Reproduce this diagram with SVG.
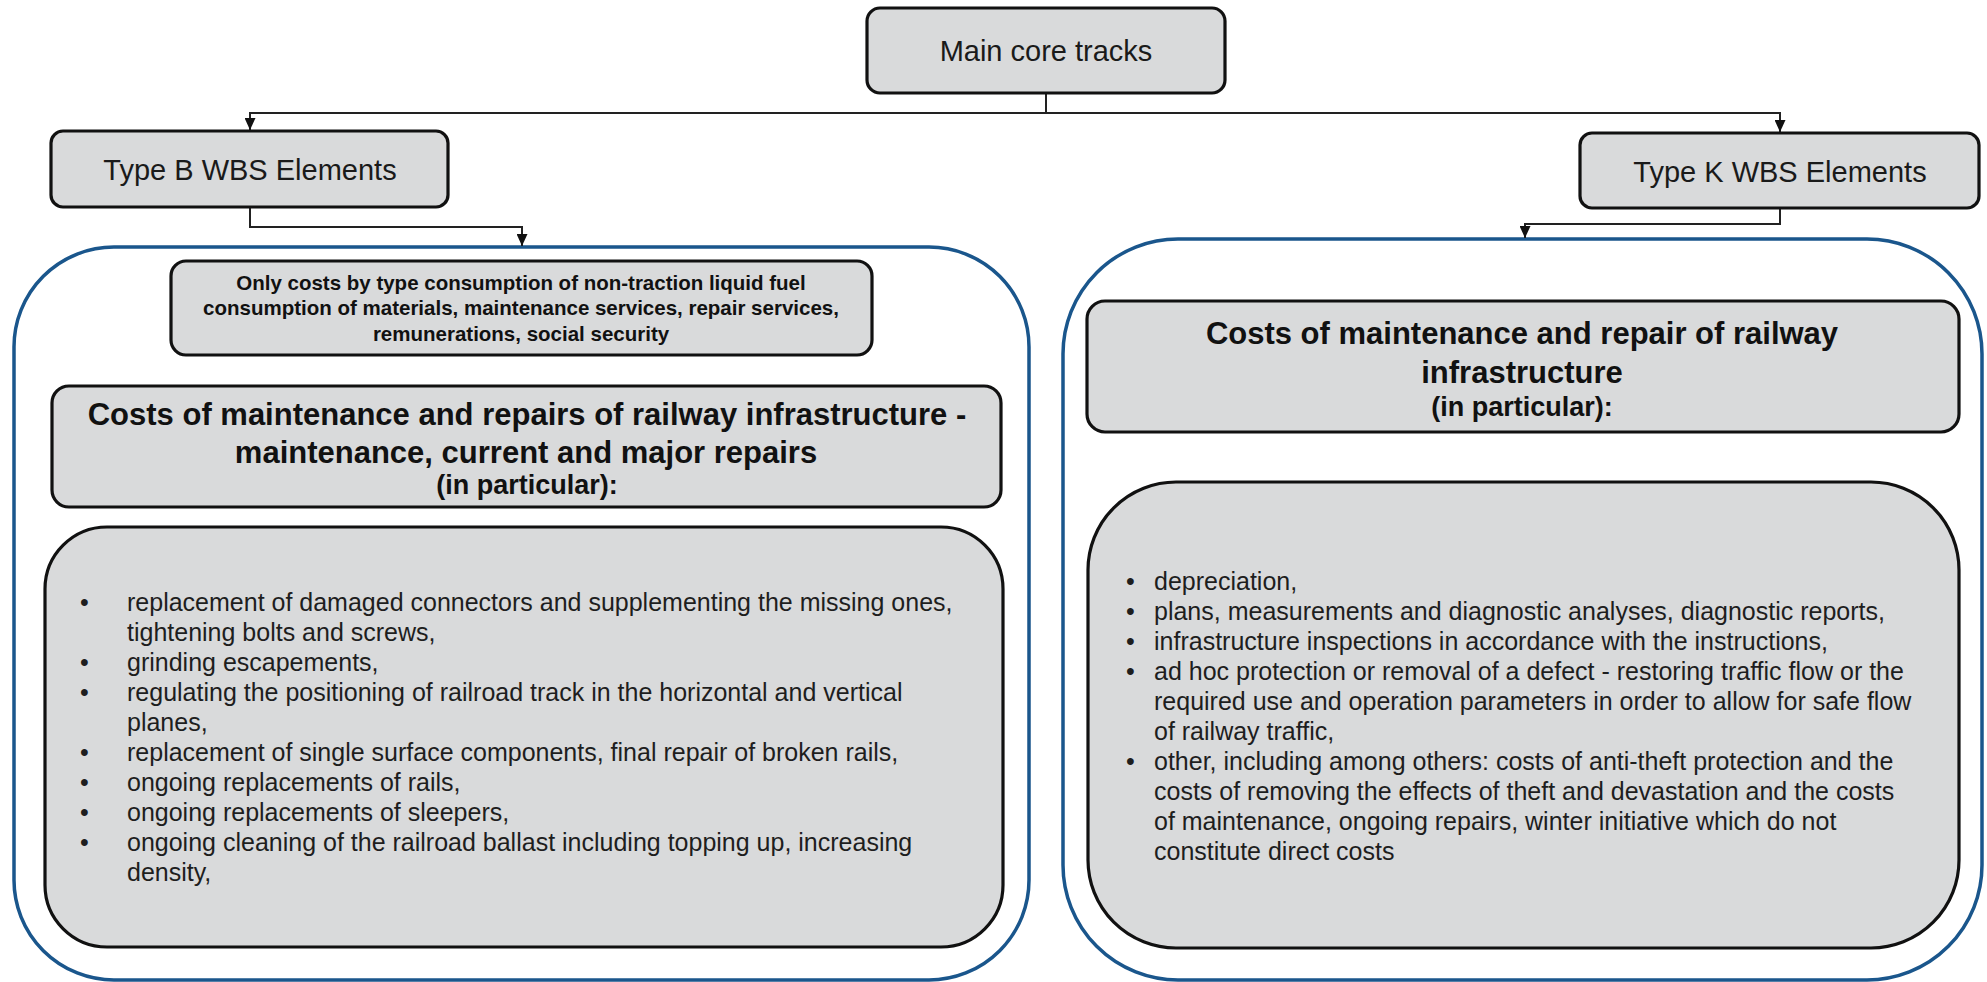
<svg xmlns="http://www.w3.org/2000/svg" width="1987" height="982" viewBox="0 0 1987 982">
<style>
.box{fill:#d9dadb;stroke:#111;stroke-width:3.2}
.cont{fill:none;stroke:#1a568c;stroke-width:3.5}
.lbl{font-family:"Liberation Sans",Arial,sans-serif;font-size:29px;fill:#1a1a1a;text-anchor:middle}
.hd{font-family:"Liberation Sans",Arial,sans-serif;font-size:31px;font-weight:bold;fill:#111;text-anchor:middle}
.sub{font-family:"Liberation Sans",Arial,sans-serif;font-size:27px;font-weight:bold;fill:#111;text-anchor:middle}
.sm{font-family:"Liberation Sans",Arial,sans-serif;font-size:20.5px;font-weight:bold;fill:#111;text-anchor:middle}
.bl{font-family:"Liberation Sans",Arial,sans-serif;font-size:25px;fill:#1e1e1e}
.conn{fill:none;stroke:#222;stroke-width:2}
</style>
<defs>
<marker id="arr" markerUnits="userSpaceOnUse" markerWidth="12" markerHeight="11" refX="12" refY="5.5" orient="auto">
<path d="M0,0 L12,5.5 L0,11 z" fill="#111"/>
</marker>
</defs>

<g id="container-B"><rect class="cont" x="14" y="247" width="1015" height="733" rx="100" ry="100"/></g>
<g id="container-K"><rect class="cont" x="1063" y="239" width="919" height="741" rx="115" ry="115"/></g>

<g id="connectors">
<path class="conn" d="M1046,94 V113 H250 V130" marker-end="url(#arr)"/>
<path class="conn" d="M1046,113 H1780 V132" marker-end="url(#arr)"/>
<path class="conn" d="M250,207 V227 H522 V246" marker-end="url(#arr)"/>
<path class="conn" d="M1780,208 V224 H1525 V238" marker-end="url(#arr)"/>
</g>

<g id="main">
<rect class="box" x="867" y="8" width="358" height="85" rx="13"/>
<text class="lbl" x="1046" y="61">Main core tracks</text>
</g>

<g id="typeB">
<rect class="box" x="51" y="131" width="397" height="76" rx="12"/>
<text class="lbl" x="250" y="180">Type B WBS Elements</text>
</g>

<g id="typeK">
<rect class="box" x="1580" y="133" width="399" height="75" rx="12"/>
<text class="lbl" x="1780" y="182">Type K WBS Elements</text>
</g>

<g id="only-costs">
<rect class="box" x="171" y="261" width="701" height="94" rx="15"/>
<text class="sm" x="521" y="290">Only costs by type consumption of non-traction liquid  fuel</text>
<text class="sm" x="521" y="315">consumption of materials, maintenance services, repair services,</text>
<text class="sm" x="521" y="341">remunerations, social security</text>
</g>

<g id="header-B">
<rect class="box" x="52" y="386" width="949" height="121" rx="17"/>
<text class="hd" x="527" y="425">Costs of maintenance and repairs of railway infrastructure -</text>
<text class="hd" x="526" y="463">maintenance, current and major repairs</text>
<text class="sub" x="527" y="494">(in particular):</text>
</g>

<g id="header-K">
<rect class="box" x="1087" y="301" width="872" height="131" rx="18"/>
<text class="hd" x="1522" y="344">Costs of maintenance and repair of railway</text>
<text class="hd" x="1522" y="383">infrastructure</text>
<text class="sub" x="1522" y="416">(in particular):</text>
</g>

<g id="list-B">
<rect class="box" x="45" y="527" width="958" height="420" rx="62"/>
<text class="bl" x="80" y="611">•</text>
<text class="bl" x="127" y="611">replacement of damaged connectors and supplementing the missing ones,</text>
<text class="bl" x="127" y="641">tightening bolts and screws,</text>
<text class="bl" x="80" y="671">•</text>
<text class="bl" x="127" y="671">grinding escapements,</text>
<text class="bl" x="80" y="701">•</text>
<text class="bl" x="127" y="701">regulating the positioning of railroad track in the horizontal and vertical</text>
<text class="bl" x="127" y="731">planes,</text>
<text class="bl" x="80" y="761">•</text>
<text class="bl" x="127" y="761">replacement of single surface components, final repair of broken rails,</text>
<text class="bl" x="80" y="791">•</text>
<text class="bl" x="127" y="791">ongoing replacements of rails,</text>
<text class="bl" x="80" y="821">•</text>
<text class="bl" x="127" y="821">ongoing replacements of sleepers,</text>
<text class="bl" x="80" y="851">•</text>
<text class="bl" x="127" y="851">ongoing cleaning of the railroad ballast including topping up, increasing</text>
<text class="bl" x="127" y="881">density,</text>
</g>

<g id="list-K">
<rect class="box" x="1088" y="482" width="871" height="466" rx="88"/>
<text class="bl" x="1126" y="590">•</text>
<text class="bl" x="1154" y="590">depreciation,</text>
<text class="bl" x="1126" y="620">•</text>
<text class="bl" x="1154" y="620">plans, measurements and diagnostic analyses, diagnostic reports,</text>
<text class="bl" x="1126" y="650">•</text>
<text class="bl" x="1154" y="650">infrastructure inspections in accordance with the instructions,</text>
<text class="bl" x="1126" y="680">•</text>
<text class="bl" x="1154" y="680">ad hoc protection or removal of a defect - restoring traffic flow or the</text>
<text class="bl" x="1154" y="710">required use and operation parameters in order to allow for safe flow</text>
<text class="bl" x="1154" y="740">of railway traffic,</text>
<text class="bl" x="1126" y="770">•</text>
<text class="bl" x="1154" y="770">other, including among others: costs of anti-theft protection and the</text>
<text class="bl" x="1154" y="800">costs of removing the effects of theft and devastation and the costs</text>
<text class="bl" x="1154" y="830">of maintenance, ongoing repairs, winter initiative which do not</text>
<text class="bl" x="1154" y="860">constitute direct costs</text>
</g>
</svg>
